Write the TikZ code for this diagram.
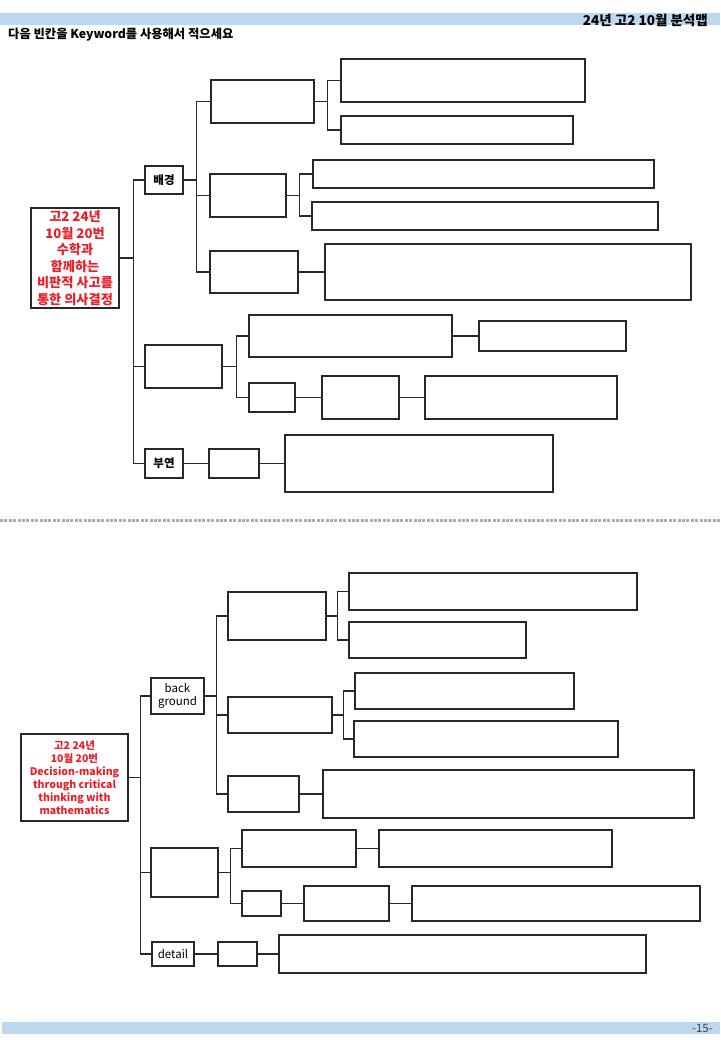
\documentclass[tikz,border=0pt]{standalone}
\usepackage{fontspec}
\setmainfont{Noto Sans CJK KR}
\usepackage{tikz}

\definecolor{barblue}{RGB}{189,215,238}
\definecolor{rootred}{RGB}{232,30,40}
\definecolor{linegray}{RGB}{40,40,40}

\begin{document}
\begin{tikzpicture}[x=1pt, y=-1pt,
    box/.style={draw=linegray, line width=1.25pt, inner sep=0pt, align=center},
    link/.style={draw=linegray, line width=1.7pt},
    rootbox/.style={box, text=rootred, font=\bfseries\fontsize{13.2}{16.5}\selectfont},
    tagbox/.style={box, font=\bfseries\fontsize{11.5}{13}\selectfont},
    engbox/.style={box, font=\fontsize{11.5}{12.5}\selectfont}]
    \useasboundingbox (0,0) rectangle (720,1040);

    % Header band and titles
    \fill[barblue] (0,13) rectangle (720,25);
    \node[anchor=south east, inner sep=0pt, font=\bfseries\fontsize{13.5}{15}\selectfont] (title) at (708,27) {24년 고2 10월 분석맵};
    \node[anchor=west, inner sep=0pt, font=\bfseries\fontsize{12.3}{13}\selectfont] (task) at (8,35) {다음 빈칸을 Keyword를 사용해서 적으세요};

    % Labelled nodes (Korean map)
    \node[rootbox, minimum width=88pt, minimum height=100pt] (root1) at (75,258) {고2 24년\\10월 20번\\수학과\\함께하는\\비판적 사고를\\통한 의사결정};
    \node[tagbox, minimum width=38pt, minimum height=28pt] (bg1) at (164,180) {배경};
    \node[tagbox, minimum width=38pt, minimum height=29pt] (bu1) at (164,463.5) {부연};

    % Labelled nodes (English map)
    \node[rootbox, font=\bfseries\fontsize{10.5}{13}\selectfont, minimum width=107pt, minimum height=87pt] (root2) at (74.5,777.5) {고2 24년\\10월 20번\\Decision-making\\through critical\\thinking with\\mathematics};
    \node[engbox, minimum width=53pt, minimum height=36pt] (bg2) at (177.5,696) {back\\ground};
    \node[engbox, minimum width=42pt, minimum height=24pt] (dt2) at (173,954) {detail};

    % Blank boxes: name/left/top/right/bottom
    \foreach \nm/\xa/\ya/\xb/\yb in {
        a1/211/80/314/123, a1a/341/59/585/102, a1b/341/116/573/144,
        a2/210/174/286/217, a2a/313/160/654/188, a2b/312/202/658/230,
        a3/210/251/298/293, a3a/325/244/691/300,
        b/145/345/222/388, b1/249/315/452/357, b1a/479/321/626/351,
        b2/249/383/295/412, b2a/322/376/399/419, b2b/425/376/617/419,
        c1/209/449/259/478, c1a/285/435/553/492,
        d1/228/592/326/640, d1a/349/573/637/610, d1b/349/622/526/658,
        d2/228/697/332/733, d2a/355/673/574/709, d2b/354/721/618/757,
        d3/228/776/299/812, d3a/323/770/694/818,
        e/151/848/218/897, e1/242/830/356/867, e1a/379/830/612/867,
        e2/242/891/281/916, e2a/304/886/389/921, e2b/412/886/700/921,
        f1/218/942/257/966, f1a/279/935/646/973} {
        \pgfmathsetmacro{\w}{\xb-\xa}
        \pgfmathsetmacro{\h}{\yb-\ya}
        \node[box, minimum width=\w pt, minimum height=\h pt] (\nm) at ({(\xa+\xb)/2},{(\ya+\yb)/2}) {};
    }

    % Korean map connectors
    \foreach \c in {bg1, b, bu1} \draw[link] (root1.east) -- ++(14,0) |- (\c.west);
    \foreach \c in {a1, a2, a3} \draw[link] (bg1.east) -- ++(13,0) |- (\c.west);
    \foreach \c in {a1a, a1b} \draw[link] (a1.east) -- ++(13,0) |- (\c.west);
    \foreach \c in {a2a, a2b} \draw[link] (a2.east) -- ++(13,0) |- (\c.west);
    \draw[link] (a3.east) -- (a3a.west);
    \foreach \c in {b1, b2} \draw[link] (b.east) -- ++(14,0) |- (\c.west);
    \draw[link] (b1.east) -- (b1a.west);
    \draw[link] (b2.east) -- (b2a.west) (b2a.east) -- (b2b.west);
    \draw[link] (bu1.east) -- (c1.west) (c1.east) -- (c1a.west);

    % Separator
    \draw[gray!65, line width=3pt, dash pattern=on 3pt off 1.4pt] (0,520) -- (720,520);

    % English map connectors
    \foreach \c in {bg2, e, dt2} \draw[link] (root2.east) -- ++(12,0) |- (\c.west);
    \foreach \c in {d1, d2, d3} \draw[link] (bg2.east) -- ++(12,0) |- (\c.west);
    \foreach \c in {d1a, d1b} \draw[link] (d1.east) -- ++(11,0) |- (\c.west);
    \foreach \c in {d2a, d2b} \draw[link] (d2.east) -- ++(11,0) |- (\c.west);
    \draw[link] (d3.east) -- (d3a.west);
    \foreach \c in {e1, e2} \draw[link] (e.east) -- ++(12,0) |- (\c.west);
    \draw[link] (e1.east) -- (e1a.west);
    \draw[link] (e2.east) -- (e2a.west) (e2a.east) -- (e2b.west);
    \draw[link] (dt2.east) -- (f1.west) (f1.east) -- (f1a.west);

    % Footer band
    \fill[barblue] (2,1022) rectangle (720,1034);
    \node[anchor=east, inner sep=0pt, text=black!75, font=\fontsize{11.5}{12}\selectfont] (pagenum) at (713,1028) {-15-};
\end{tikzpicture}
\end{document}
